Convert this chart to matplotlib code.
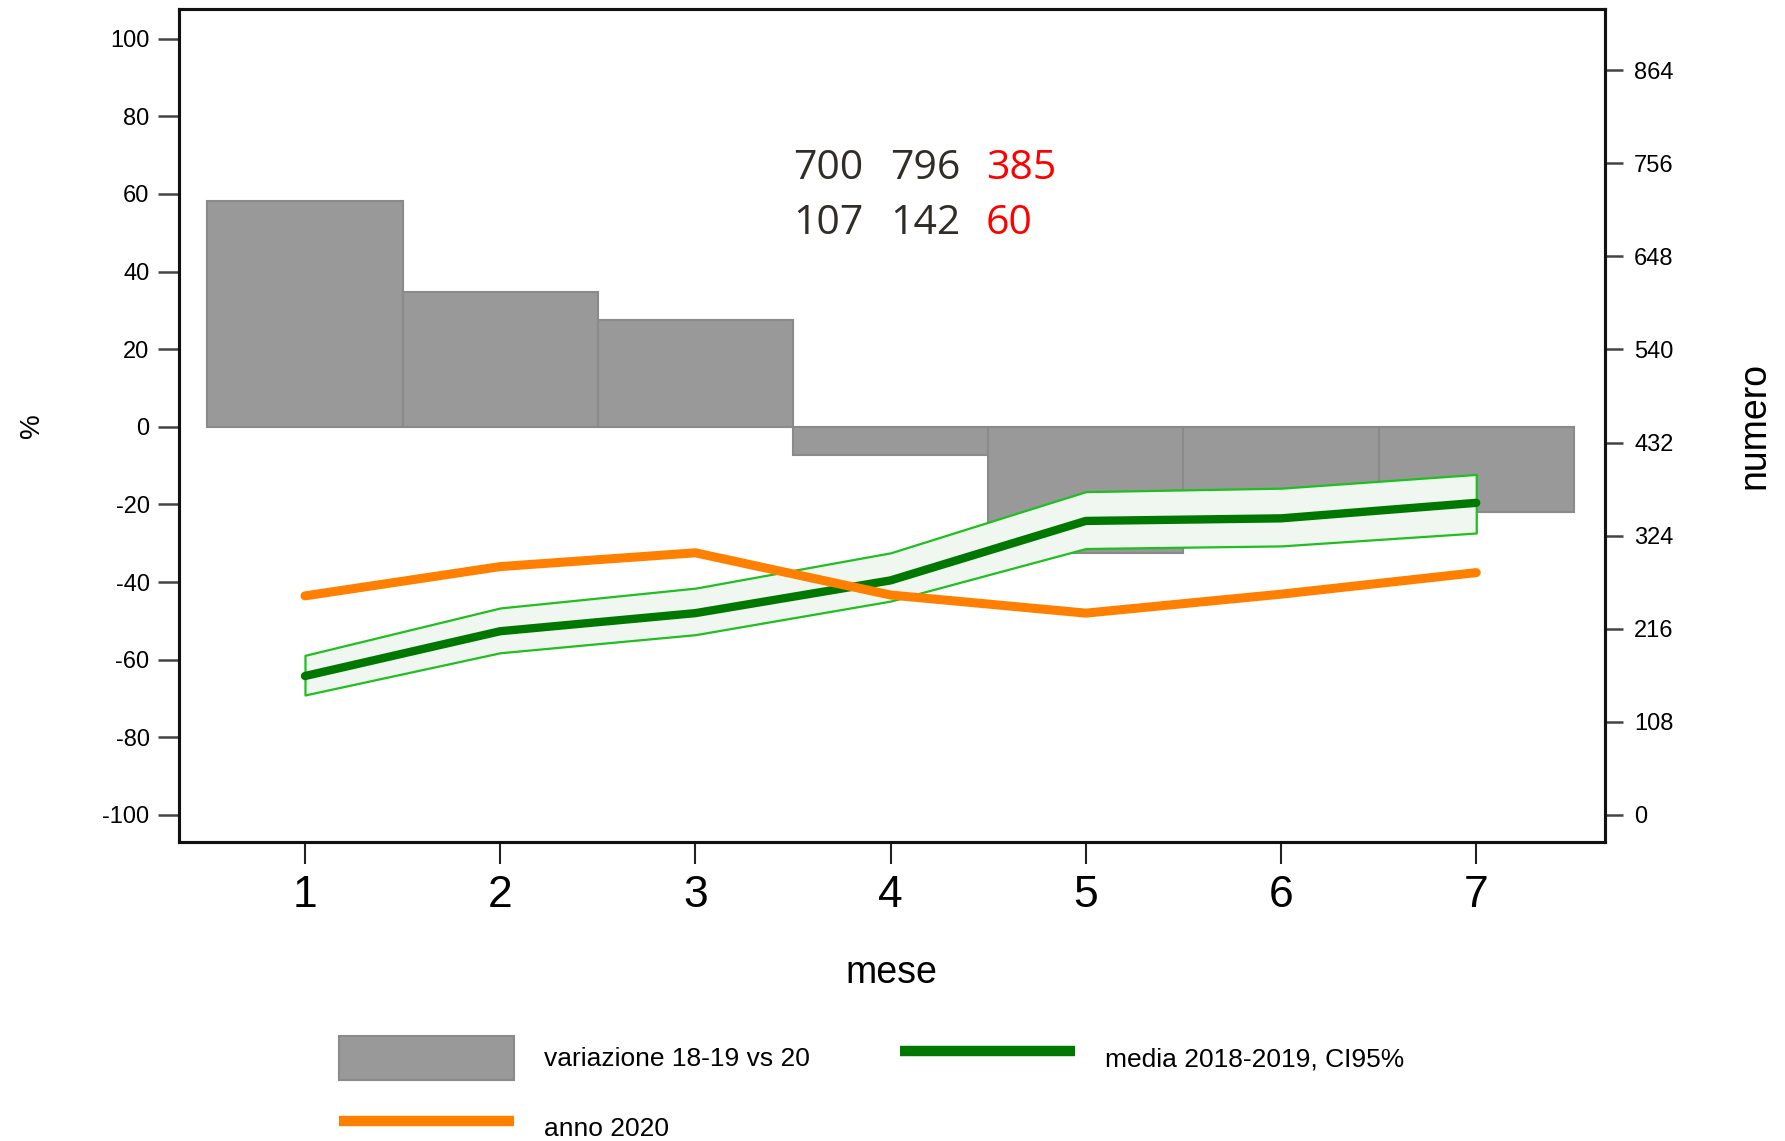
import matplotlib
import matplotlib.pyplot as plt
from matplotlib.patches import Patch
from matplotlib.lines import Line2D

matplotlib.use("Agg")

# Months and monthly values
mesi = [1, 2, 3, 4, 5, 6, 7]
variazione = [58.1, 34.6, 27.6, -7.3, -32.5, -27.0, -22.0]   # % change 18-19 vs 20
anno_2020 = [254, 288, 304, 255, 234, 256, 281]              # counts 2020
media_1819 = [161, 213, 234, 272, 341, 344, 362]             # mean 2018-2019
ci_low = [139, 188, 209, 248, 309, 312, 327]
ci_high = [185, 240, 263, 304, 375, 379, 395]

pct_ticks = [-100, -80, -60, -40, -20, 0, 20, 40, 60, 80, 100]
num_ticks = [0, 108, 216, 324, 432, 540, 648, 756, 864]

totali_1819 = ["700", "796"]
totale_2020 = "385"
parziali_1819 = ["107", "142"]
parziale_2020 = "60"

plt.rcParams["font.family"] = ["Liberation Sans", "DejaVu Sans"]

fig = plt.figure(figsize=(17.85, 11.41), dpi=100)
ax = fig.add_axes([0.1001, 0.262, 0.799, 0.730])

# Bars of percentage change on the left axis
ax.bar(mesi, variazione, width=1.0, color="#999999", edgecolor="#8a8a8a",
       linewidth=1.5, zorder=2)
ax.set_xlim(0.353, 7.659)
ax.set_ylim(-107.0, 107.6)
ax.set_yticks(pct_ticks)
ax.set_yticklabels([str(t) for t in pct_ticks], fontsize=17)
ax.set_xticks(mesi)
ax.set_xticklabels([str(m) for m in mesi], fontsize=32)
ax.tick_params(axis="y", direction="out", length=15, width=1.8, color="#444444", pad=6)
ax.tick_params(axis="x", direction="out", length=16, width=1.5, color="#222222", pad=8)
ax.set_xlabel("mese", fontsize=27, labelpad=28)
ax.set_ylabel("%", fontsize=20, labelpad=41)
for sp in ax.spines.values():
    sp.set_linewidth(2.2)
    sp.set_color("#111111")

# Counts on the right axis
ax2 = ax.twinx()
ax2.set_ylim(-31.7, 935)
ax2.fill_between(mesi, ci_low, ci_high, facecolor="#f0f7f0", edgecolor="#1fbf1f",
                 linewidth=1.6, zorder=3)
ax2.plot(mesi, media_1819, color="#007800", linewidth=6, solid_capstyle="round",
         solid_joinstyle="round", zorder=4)
ax2.plot(mesi, anno_2020, color="#ff8000", linewidth=6.5, solid_capstyle="round",
         solid_joinstyle="round", zorder=5)
ax2.set_yticks(num_ticks)
ax2.set_yticklabels([str(t) for t in num_ticks], fontsize=17)
ax2.tick_params(axis="y", direction="out", length=13, width=1.8, color="#444444", pad=8)
ax2.set_ylabel("numero", fontsize=27, labelpad=45)
for sp in ax2.spines.values():
    sp.set_linewidth(2.2)
    sp.set_color("#111111")

# Totals written inside the plot area
txt_x = [0.4443, 0.4986, 0.5524]
for row_y, vals, last in [(0.852, totali_1819, totale_2020),
                          (0.804, parziali_1819, parziale_2020)]:
    for x, v in zip(txt_x[:2], vals):
        fig.text(x, row_y, v, fontsize=29.5, color="#302c28", family="Open Sans",
                 ha="left", va="center")
    fig.text(txt_x[2], row_y, last, fontsize=29.5, color="#ff0000", family="Open Sans",
             ha="left", va="center")

handles = [
    Patch(facecolor="#999999", edgecolor="#8a8a8a", linewidth=1.5),
    Line2D([], [], color="#007800", linewidth=7.5, solid_capstyle="butt"),
    Line2D([], [], color="#ff8000", linewidth=7.5, solid_capstyle="butt"),
]
labels = ["variazione 18-19 vs 20", "media 2018-2019, CI95%", "anno 2020"]
fig.legend([handles[0], handles[2], handles[1]],
           [labels[0], labels[2], labels[1]],
           ncol=2, loc="upper left", bbox_to_anchor=(0.190, 0.092),
           frameon=False, fontsize=19, handlelength=6.63, handleheight=2.17,
           handletextpad=1.14, columnspacing=3.4, labelspacing=0.98,
           borderpad=0, borderaxespad=0)

fig.savefig("out.png", dpi=100)
